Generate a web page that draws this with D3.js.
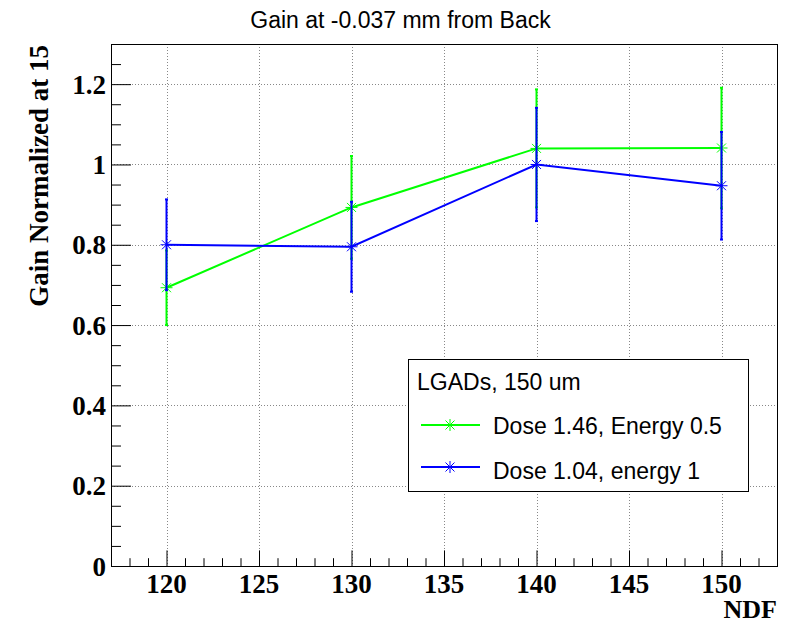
<!DOCTYPE html>
<html><head><meta charset="utf-8">
<script src="https://cdn.jsdelivr.net/npm/d3@7"></script>
<style>body{margin:0;background:#fff}svg{display:block}</style>
</head><body>
<svg id="c" width="802" height="625"></svg>
<script>
const ndf = [120, 130, 140, 150];
const greenVals = [0.693, 0.893, 1.040, 1.041];
const greenErrs = [0.093, 0.128, 0.147, 0.150];
const blueVals = [0.800, 0.795, 1.000, 0.947];
const blueErrs = [0.113, 0.112, 0.141, 0.134];
const seriesNames = ["Dose 1.46, Energy 0.5", "Dose 1.04, energy 1"];
const seriesColors = ["#00ff00", "#0000ff"];
const xTicks = [120, 125, 130, 135, 140, 145, 150];
const yTicks = [0, 0.2, 0.4, 0.6, 0.8, 1, 1.2];
const titleText = "Gain at -0.037 mm from Back";
const xLabel = "NDF";
const yLabel = "Gain Normalized at 15";
const legendHeader = "LGADs, 150 um";

const svg = d3.select("#c");
const L = 111, R = 777, T = 44, B = 566;
const x = d3.scaleLinear().domain([117, 153]).range([L, R]);
const y = d3.scaleLinear().domain([0, 1.3]).range([B, T]);
const serif = "Liberation Serif, Times New Roman, serif";
const sans = "Liberation Sans, Arial, sans-serif";

// grid
const grid = svg.append("g").attr("stroke", "#888").attr("stroke-width", 1).attr("stroke-dasharray", "1,2");
xTicks.forEach(t => grid.append("line").attr("x1", Math.round(x(t)) + .5).attr("x2", Math.round(x(t)) + .5).attr("y1", T).attr("y2", B));
yTicks.forEach(t => grid.append("line").attr("y1", Math.round(y(t)) + .5).attr("y2", Math.round(y(t)) + .5).attr("x1", L).attr("x2", R));

// axes ticks (major + minor)
const gx = svg.append("g").attr("transform", `translate(0,${B})`)
  .call(d3.axisBottom(x).tickValues(xTicks).tickSize(-15.6).tickFormat(""));
gx.select(".domain").remove();
const xMinor = d3.range(118, 153, 1).filter(v => !xTicks.includes(v));
const gxm = svg.append("g").attr("transform", `translate(0,${B})`)
  .call(d3.axisBottom(x).tickValues(xMinor).tickSize(-7.8).tickFormat(""));
gxm.select(".domain").remove();

const gy = svg.append("g").attr("transform", `translate(${L},0)`)
  .call(d3.axisLeft(y).tickValues(yTicks).tickSize(-20).tickFormat(""));
gy.select(".domain").remove();
const yMinor = d3.range(0.05, 1.3, 0.05).map(v => +v.toFixed(2)).filter(v => !yTicks.some(t => Math.abs(t - v) < 1e-6));
const gym = svg.append("g").attr("transform", `translate(${L},0)`)
  .call(d3.axisLeft(y).tickValues(yMinor).tickSize(-10).tickFormat(""));
gym.select(".domain").remove();
svg.selectAll(".tick line").attr("stroke", "#000");

// tick labels
svg.append("g").selectAll("text").data(xTicks).join("text")
  .attr("x", d => x(d)).attr("y", 593).attr("text-anchor", "middle")
  .attr("font-family", serif).attr("font-weight", "bold").attr("font-size", 27).text(d => d);
svg.append("g").selectAll("text").data(yTicks).join("text")
  .attr("x", 106).attr("y", d => y(d) + 9.5).attr("text-anchor", "end")
  .attr("font-family", serif).attr("font-weight", "bold").attr("font-size", 27).text(d => d3.format("")(d));

// frame
svg.append("rect").attr("x", L + .5).attr("y", T + .5).attr("width", R - L).attr("height", B - T)
  .attr("fill", "none").attr("stroke", "#000").attr("stroke-width", 1);

// title
svg.append("text").attr("x", 400.5).attr("y", 28).attr("text-anchor", "middle")
  .attr("font-family", sans).attr("font-size", 23).text(titleText);
// axis labels
svg.append("text").attr("x", R).attr("y", 618).attr("text-anchor", "end")
  .attr("font-family", serif).attr("font-weight", "bold").attr("font-size", 26).text(xLabel);
svg.append("text").attr("transform", `translate(48,${T + 1}) rotate(-90)`).attr("text-anchor", "end")
  .attr("font-family", serif).attr("font-weight", "bold").attr("font-size", 27).text(yLabel);

function star(g, cx, cy, color, s) {
  const p = `M${cx - s},${cy}H${cx + s}M${cx},${cy - s}V${cy + s}M${cx - s * .75},${cy - s * .75}L${cx + s * .75},${cy + s * .75}M${cx - s * .75},${cy + s * .75}L${cx + s * .75},${cy - s * .75}`;
  g.append("path").attr("d", p).attr("stroke", color).attr("stroke-width", 1).attr("fill", "none");
}

const series = [
  {vals: greenVals, errs: greenErrs, color: seriesColors[0]},
  {vals: blueVals, errs: blueErrs, color: seriesColors[1]}
];
series.forEach(s => {
  const g = svg.append("g");
  const pts = ndf.map((n, i) => [x(n), y(s.vals[i])]);
  g.append("path").attr("d", d3.line()(pts)).attr("fill", "none").attr("stroke", s.color).attr("stroke-width", 2);
  ndf.forEach((n, i) => {
    const cx = x(n);
    g.append("line").attr("x1", cx).attr("x2", cx).attr("y1", y(s.vals[i] - s.errs[i])).attr("y2", y(s.vals[i] + s.errs[i]))
      .attr("stroke", s.color).attr("stroke-width", 2);
    [s.vals[i] - s.errs[i], s.vals[i] + s.errs[i]].forEach(v => {
      g.append("line").attr("x1", cx - 1.5).attr("x2", cx + 1.5).attr("y1", y(v)).attr("y2", y(v)).attr("stroke", s.color).attr("stroke-width", 2);
    });
    star(g, cx, y(s.vals[i]), s.color, 6);
  });
});

// legend
const lg = svg.append("g");
lg.append("rect").attr("x", 408.5).attr("y", 359.5).attr("width", 340).attr("height", 132)
  .attr("fill", "#fff").attr("stroke", "#000").attr("stroke-width", 1);
lg.append("text").attr("x", 417).attr("y", 390).attr("font-family", sans).attr("font-size", 23).text(legendHeader);
[425, 467].forEach((ly, i) => {
  lg.append("line").attr("x1", 421).attr("x2", 480).attr("y1", ly).attr("y2", ly).attr("stroke", seriesColors[i]).attr("stroke-width", 2);
  star(lg, 450, ly, seriesColors[i], 6);
  lg.append("text").attr("x", 493).attr("y", ly + 9 + (i ? 3 : 0)).attr("font-family", sans).attr("font-size", 23).text(seriesNames[i]);
});
</script>
</body></html>
